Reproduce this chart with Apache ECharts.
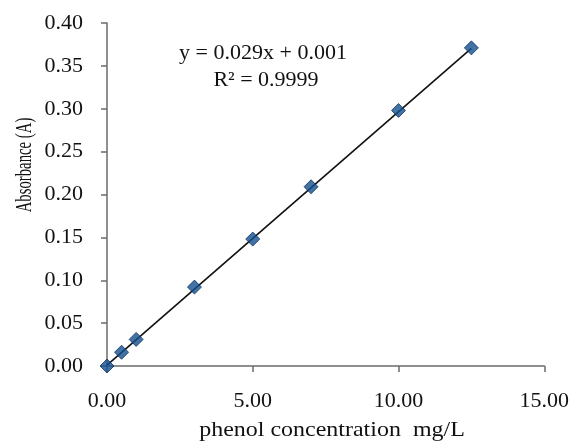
<!DOCTYPE html>
<html>
<head>
<meta charset="utf-8">
<script src="https://cdn.jsdelivr.net/npm/echarts@6/dist/echarts.min.js"></script>
<style>
  html, body { margin: 0; padding: 0; background: #fff; }
  #chart { width: 572px; height: 446px; }
</style>
</head>
<body>
<div id="chart"></div>
<script>
// phenol calibration data
const concentration = [0, 0.5, 1, 3, 5, 7, 10, 12.5];
const absorbance = [0, 0.016, 0.031, 0.092, 0.148, 0.209, 0.298, 0.371];
// linear trendline ends
const trendX = [0, 12.5];
const trendY = [0.001, 0.3705];
const equationText = 'y = 0.029x + 0.001';
const r2Text = 'R² = 0.9999';

const FONT = '"Liberation Serif", "DejaVu Serif", serif';

const chart = echarts.init(document.getElementById('chart'));

const axisLabel = {
  margin: 24,
  fontFamily: FONT,
  fontSize: 22,
  color: '#111',
  formatter: v => v.toFixed(2)
};

const option = {
  backgroundColor: '#fff',
  animation: false,
  grid: { left: 107, right: 27, top: 23, bottom: 80 },
  xAxis: {
    type: 'value',
    min: 0,
    max: 15,
    interval: 5,
    axisLine: { show: true, lineStyle: { color: '#6b6b6b', width: 1.5 } },
    axisTick: { show: true, inside: false, length: 6, lineStyle: { color: '#6b6b6b', width: 1.5 } },
    splitLine: { show: false },
    axisLabel: axisLabel
  },
  yAxis: {
    type: 'value',
    min: 0,
    max: 0.4,
    interval: 0.05,
    axisLine: { show: true, lineStyle: { color: '#6b6b6b', width: 1.5 } },
    axisTick: { show: true, inside: false, length: 6, lineStyle: { color: '#6b6b6b', width: 1.5 } },
    splitLine: { show: false },
    axisLabel: axisLabel
  },
  graphic: [
    {
      type: 'text',
      x: 263, y: 53,
      style: {
        text: equationText, fontFamily: FONT, fontSize: 22, fill: '#111',
        align: 'center', verticalAlign: 'middle'
      }
    },
    {
      type: 'text',
      x: 266, y: 80,
      style: {
        text: r2Text, fontFamily: FONT, fontSize: 22, fill: '#111',
        align: 'center', verticalAlign: 'middle'
      }
    },
    {
      type: 'text',
      x: 332, y: 430,
      scaleX: 1.09,
      style: {
        text: 'phenol concentration  mg/L', fontFamily: FONT, fontSize: 22, fill: '#111',
        align: 'center', verticalAlign: 'middle'
      }
    },
    {
      type: 'text',
      x: 25, y: 165,
      rotation: Math.PI / 2,
      scaleX: 0.615,
      style: {
        text: 'Absorbance (A)', fontFamily: FONT, fontSize: 24, fill: '#111',
        align: 'center', verticalAlign: 'middle'
      }
    }
  ],
  series: [
    {
      name: 'trend',
      type: 'line',
      data: trendX.map((x, i) => [x, trendY[i]]),
      symbol: 'none',
      lineStyle: { color: '#111', width: 1.6 },
      z: 2
    },
    {
      name: 'absorbance',
      type: 'scatter',
      data: concentration.map((x, i) => [x, absorbance[i]]),
      symbol: 'diamond',
      symbolSize: [14, 14],
      itemStyle: { color: '#14508f', borderColor: '#0b3360', borderWidth: 1 },
      z: 3
    }
  ]
};

chart.setOption(option);
</script>
</body>
</html>
